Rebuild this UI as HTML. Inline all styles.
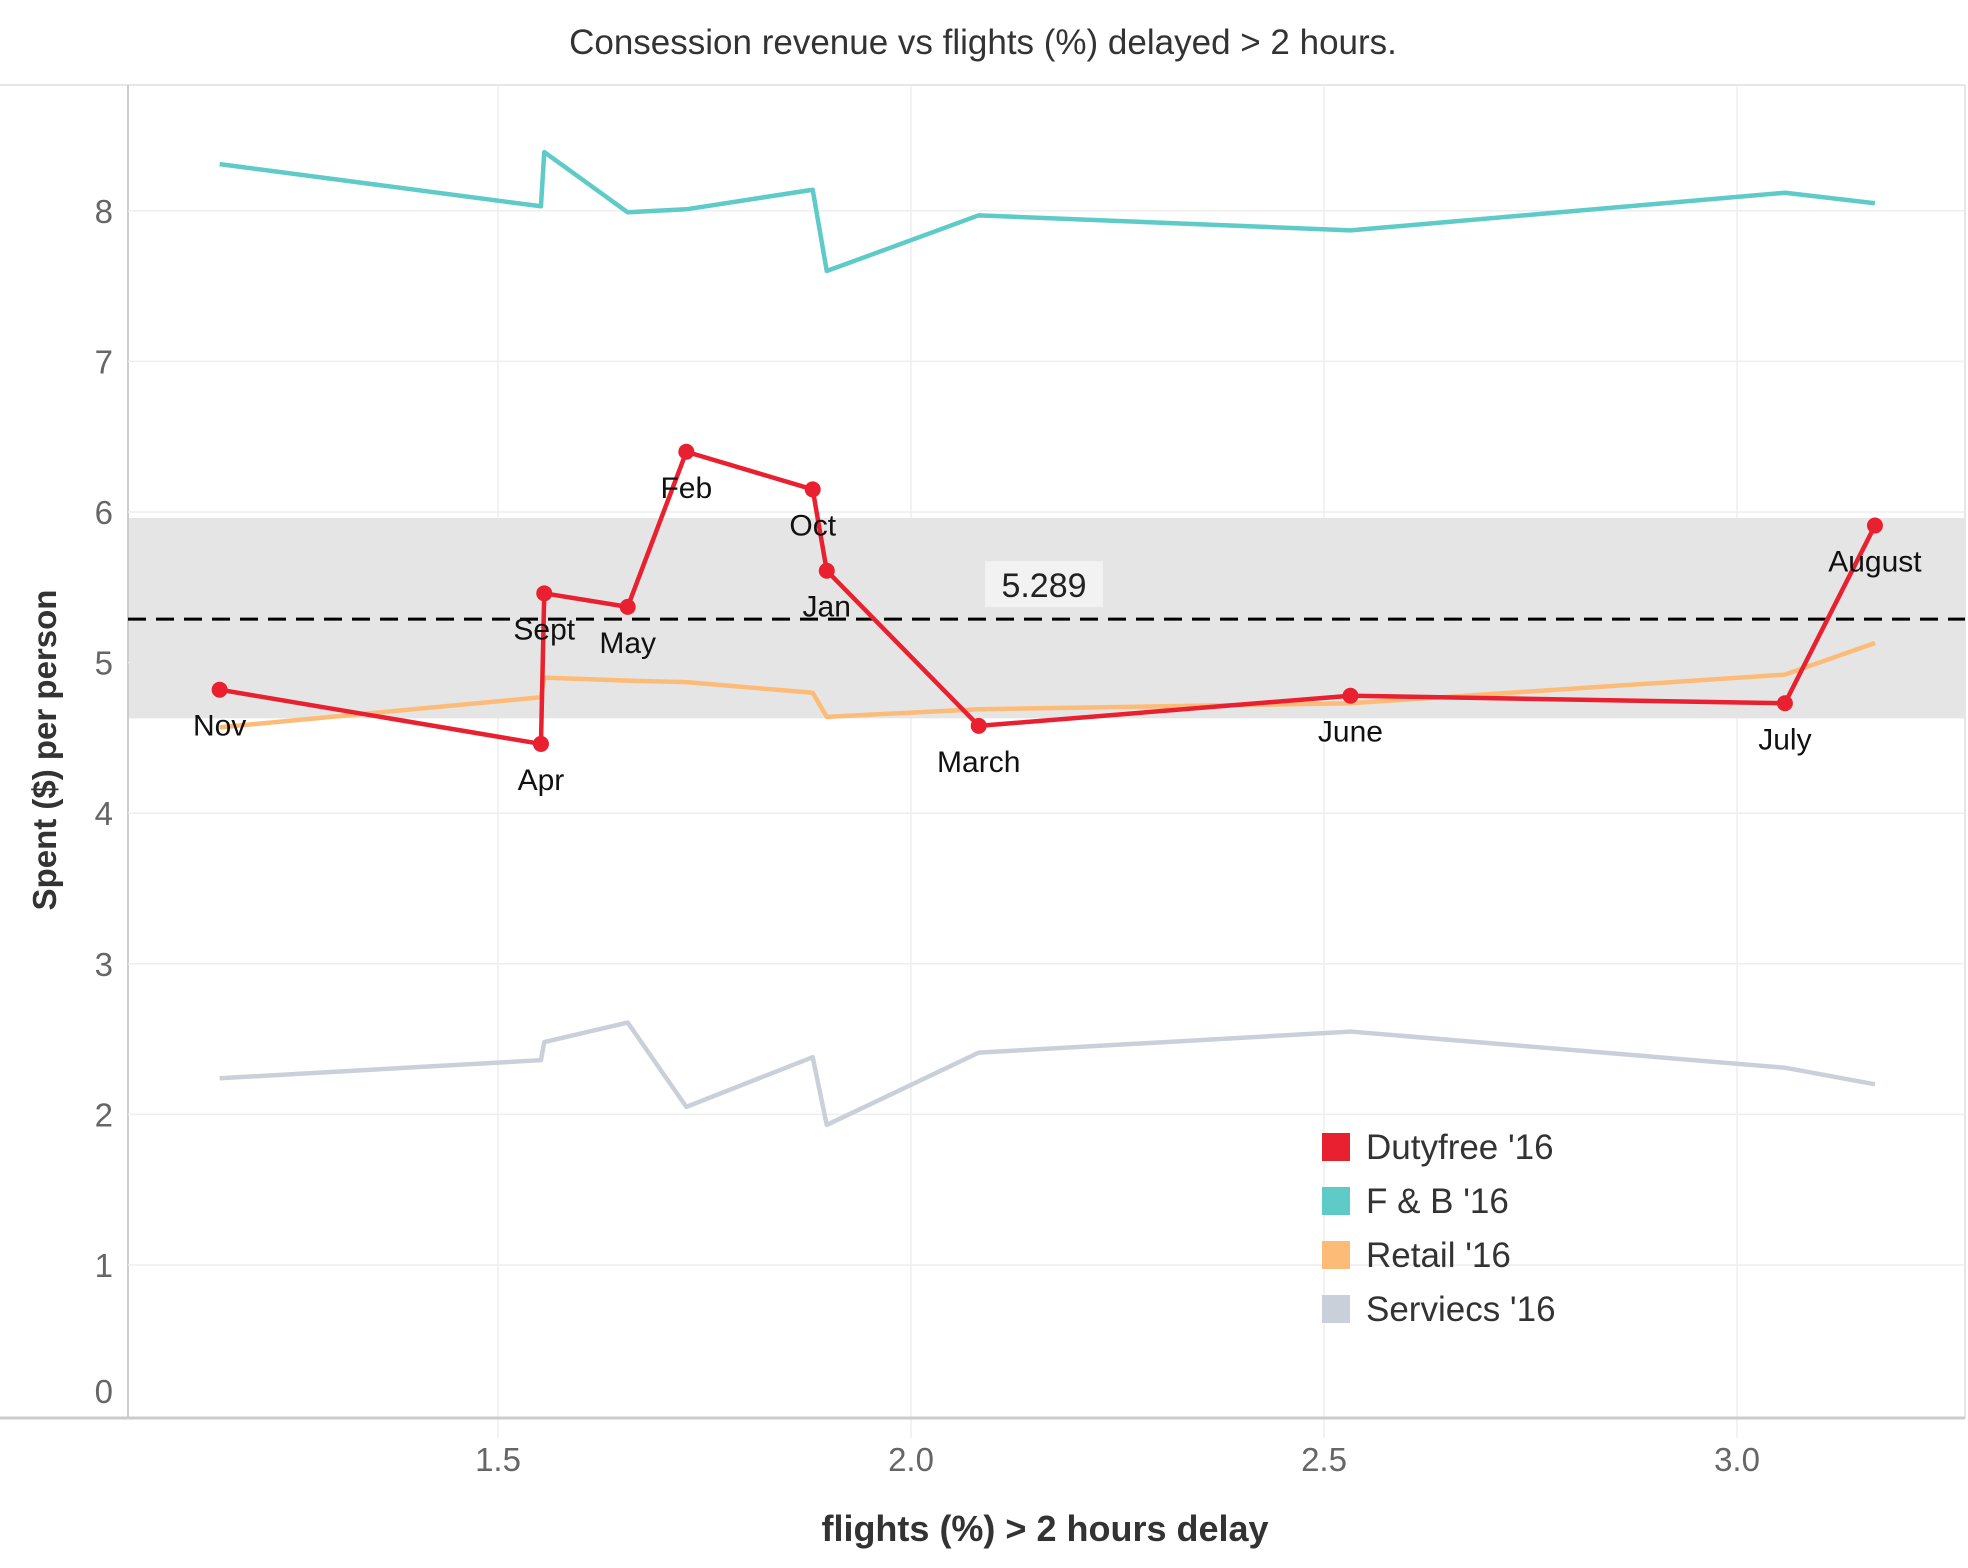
<!DOCTYPE html>
<html><head><meta charset="utf-8"><style>
html,body{margin:0;padding:0;background:#fff;}
svg{display:block;font-family:"Liberation Sans",sans-serif;}
</style></head><body>
<svg id="chart" width="1968" height="1568" viewBox="0 0 1968 1568" xmlns="http://www.w3.org/2000/svg">
<text x="983" y="54" text-anchor="middle" font-size="35" fill="#333">Consession revenue vs flights (%) delayed &gt; 2 hours.</text>
<g id="grid"></g><g id="band"></g><g id="series"></g><g id="labels"></g>
<text transform="translate(56,750) rotate(-90)" text-anchor="middle" font-size="33" font-weight="bold" fill="#333">Spent ($) per person</text>
<text x="1045" y="1541" text-anchor="middle" font-size="36" font-weight="bold" fill="#333">flights (%)  &gt; 2 hours delay</text>
<g id="legend"></g>
</svg>
<script>
const months = ["Nov","Apr","Sept","May","Feb","Oct","Jan","March","June","July","August"];
const delayPct = [1.163,1.552,1.556,1.657,1.728,1.881,1.898,2.082,2.532,3.058,3.167];
const dutyfree = [4.82,4.46,5.46,5.37,6.40,6.15,5.61,4.58,4.78,4.73,5.91];
const fnb = [8.31,8.03,8.39,7.99,8.01,8.14,7.60,7.97,7.87,8.12,8.05];
const retail = [4.57,4.77,4.90,4.88,4.87,4.80,4.64,4.69,4.73,4.92,5.13];
const services = [2.24,2.36,2.48,2.61,2.05,2.38,1.93,2.41,2.55,2.31,2.20];
const yTicks = [0,1,2,3,4,5,6,7,8];
const xTicks = ["1.5","2.0","2.5","3.0"];
const refValue = 5.289;
const bandRange = [4.63,5.96];
const legendNames = ["Dutyfree '16","F & B '16","Retail '16","Serviecs '16"];

const NS="http://www.w3.org/2000/svg";
const L=128,R=1965,T=85,B=1418;
const X=v=>85+(v-1)*826;
const Y=v=>1415.6-v*150.6;
function mk(tag,attrs,parent){const e=document.createElementNS(NS,tag);for(const k in attrs)e.setAttribute(k,attrs[k]);document.getElementById(parent).appendChild(e);return e;}

let e=mk('line',{x1:0,x2:R,y1:T,y2:T,stroke:'#ddd','stroke-width':1.5},'grid');

e=mk('line',{x1:L,x2:L,y1:T,y2:B,stroke:'#ccc','stroke-width':2},'grid');

e=mk('line',{x1:R,x2:R,y1:T,y2:B,stroke:'#ddd','stroke-width':1.5},'grid');

yTicks.forEach(t=>{
  if(t>0){
    const g=mk('line',{x1:L,x2:R,y1:Y(t),y2:Y(t),stroke:'#eee','stroke-width':1.5},'grid');
    
  }
  const ly=Math.min(Y(t),1391);
  const tx=mk('text',{x:113,y:ly+12,'text-anchor':'end','font-size':33,fill:'#666'},'grid');
  tx.textContent=t;
  
});
xTicks.forEach(t=>{
  const v=parseFloat(t);
  const g=mk('line',{x1:X(v),x2:X(v),y1:T,y2:1438,stroke:'#eee','stroke-width':1.5},'grid');
  
  const tx=mk('text',{x:X(v),y:1471,'text-anchor':'middle','font-size':33,fill:'#666'},'grid');
  tx.textContent=t;
  
});
e=mk('line',{x1:0,x2:R,y1:B,y2:B,stroke:'#ccc','stroke-width':3},'grid');


e=mk('rect',{x:L+1,y:Y(bandRange[1]),width:R-L-1,height:Y(bandRange[0])-Y(bandRange[1]),fill:'#e5e5e5'},'band');

e=mk('line',{x1:L,x2:R,y1:Y(refValue),y2:Y(refValue),stroke:'#000','stroke-width':3,'stroke-dasharray':'18,10'},'band');

e=mk('rect',{x:985,y:Y(refValue)-58,width:118,height:46,fill:'#f2f2f2'},'band');

e=mk('text',{x:1044,y:Y(refValue)-22,'text-anchor':'middle','font-size':34,fill:'#222'},'band');
e.textContent=refValue;


function line(vals,color,name){
  const d=vals.map((v,i)=>(i?'L':'M')+X(delayPct[i])+','+Y(v)).join(' ');
  const p=mk('path',{d:d,fill:'none',stroke:color,'stroke-width':4.5,'stroke-linejoin':'round'},'series');
  
}
line(services,'#c9d0da','services-line');
line(retail,'#fdbb78','retail-line');
line(fnb,'#5ecbc8','fnb-line');
line(dutyfree,'#e8202f','dutyfree-line');
dutyfree.forEach((v,i)=>{
  const c=mk('circle',{cx:X(delayPct[i]),cy:Y(v),r:8,fill:'#e8202f'},'series');
  
  const t=mk('text',{x:X(delayPct[i]),y:Y(v)+46,'text-anchor':'middle','font-size':30,fill:'#111'},'labels');
  t.textContent=months[i];
  
});

const legendColors=['#e8202f','#5ecbc8','#fdbb78','#c9d0da'];
legendNames.forEach((n,i)=>{
  const y=1147+i*54;
  const r=mk('rect',{x:1322,y:y-14,width:28,height:28,fill:legendColors[i]},'legend');
  
  const t=mk('text',{x:1366,y:y+12,'font-size':35,fill:'#333'},'legend');
  t.textContent=n;
  
});
</script>
</body></html>
